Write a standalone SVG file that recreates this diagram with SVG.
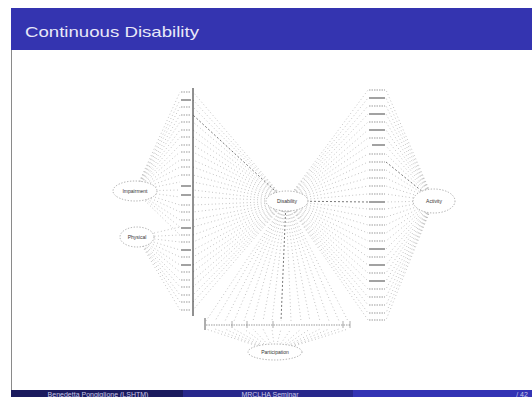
<svg xmlns="http://www.w3.org/2000/svg" width="532" height="397" viewBox="0 0 532 397">
<style>
.c{stroke:#9a9a9a;stroke-width:0.65;stroke-dasharray:0.9 2.6;fill:none}
.cd{stroke:#555;stroke-width:0.8;stroke-dasharray:2 2;fill:none}
.ind{stroke:#bdbdbd;stroke-width:1.3;stroke-dasharray:1.5 1}
.indd{stroke:#707070;stroke-width:1.3}
.ell{fill:#fff;stroke:#8a8a8a;stroke-width:0.7;stroke-dasharray:1.3 1.6}
.lab{font-family:"Liberation Sans",Arial,sans-serif;font-size:5px;fill:#333;text-anchor:middle}
.ft{font-family:"Liberation Sans",Arial,sans-serif;font-size:7px;fill:#c8c8e8;text-anchor:middle}
</style>
<rect x="0" y="0" width="532" height="397" fill="#fff"/>
<g id="slide-frame">
<rect x="11" y="8" width="521" height="42" fill="#3434b0"/>
<text x="25" y="37" font-family="'Liberation Sans',Arial,sans-serif" font-size="15" fill="#e8e8f8" textLength="174" lengthAdjust="spacingAndGlyphs">Continuous Disability</text>
<line x1="11.5" y1="50" x2="11.5" y2="390" stroke="#8a8a8a" stroke-width="1"/>
<rect x="11" y="390" width="172" height="7" fill="#1b1b5e"/>
<rect x="183" y="390" width="170" height="7" fill="#28288c"/>
<rect x="353" y="390" width="179" height="7" fill="#3434b4"/>
<text class="ft" x="98" y="396.5">Benedetta Pongiglione (LSHTM)</text>
<text class="ft" x="270" y="396.5">MRCLHA Seminar</text>
<text class="ft" x="522" y="396.5">/ 42</text>
</g>
<g id="connectors">
<line class="c" x1="135" y1="191" x2="180" y2="92"/>
<line class="c" x1="135" y1="191" x2="180" y2="100"/>
<line class="c" x1="135" y1="191" x2="180" y2="107"/>
<line class="c" x1="135" y1="191" x2="180" y2="115"/>
<line class="c" x1="135" y1="191" x2="180" y2="122"/>
<line class="c" x1="135" y1="191" x2="180" y2="130"/>
<line class="c" x1="135" y1="191" x2="180" y2="137"/>
<line class="c" x1="135" y1="191" x2="180" y2="145"/>
<line class="c" x1="135" y1="191" x2="180" y2="152"/>
<line class="c" x1="135" y1="191" x2="180" y2="160"/>
<line class="c" x1="135" y1="191" x2="180" y2="167"/>
<line class="c" x1="135" y1="191" x2="180" y2="175"/>
<line class="c" x1="135" y1="191" x2="180" y2="182"/>
<line class="c" x1="135" y1="191" x2="180" y2="190"/>
<line class="c" x1="135" y1="191" x2="180" y2="197"/>
<line class="c" x1="135" y1="191" x2="180" y2="205"/>
<line class="c" x1="135" y1="191" x2="180" y2="212"/>
<line class="c" x1="135" y1="191" x2="180" y2="220"/>
<line class="c" x1="135" y1="191" x2="180" y2="227"/>
<line class="c" x1="135" y1="191" x2="180" y2="235"/>
<line class="c" x1="137" y1="237" x2="180" y2="227"/>
<line class="c" x1="137" y1="237" x2="180" y2="235"/>
<line class="c" x1="137" y1="237" x2="180" y2="242"/>
<line class="c" x1="137" y1="237" x2="180" y2="250"/>
<line class="c" x1="137" y1="237" x2="180" y2="257"/>
<line class="c" x1="137" y1="237" x2="180" y2="265"/>
<line class="c" x1="137" y1="237" x2="180" y2="272"/>
<line class="c" x1="137" y1="237" x2="180" y2="280"/>
<line class="c" x1="137" y1="237" x2="180" y2="287"/>
<line class="c" x1="137" y1="237" x2="180" y2="295"/>
<line class="c" x1="137" y1="237" x2="180" y2="302"/>
<line class="c" x1="137" y1="237" x2="180" y2="310"/>
<line class="c" x1="286" y1="201" x2="193" y2="92"/>
<line class="c" x1="286" y1="201" x2="193" y2="100"/>
<line class="c" x1="286" y1="201" x2="193" y2="107"/>
<line class="cd" x1="286" y1="201" x2="193" y2="115"/>
<line class="c" x1="286" y1="201" x2="193" y2="122"/>
<line class="c" x1="286" y1="201" x2="193" y2="130"/>
<line class="c" x1="286" y1="201" x2="193" y2="137"/>
<line class="c" x1="286" y1="201" x2="193" y2="145"/>
<line class="c" x1="286" y1="201" x2="193" y2="152"/>
<line class="c" x1="286" y1="201" x2="193" y2="160"/>
<line class="c" x1="286" y1="201" x2="193" y2="167"/>
<line class="c" x1="286" y1="201" x2="193" y2="175"/>
<line class="c" x1="286" y1="201" x2="193" y2="182"/>
<line class="c" x1="286" y1="201" x2="193" y2="190"/>
<line class="c" x1="286" y1="201" x2="193" y2="197"/>
<line class="c" x1="286" y1="201" x2="193" y2="205"/>
<line class="c" x1="286" y1="201" x2="193" y2="212"/>
<line class="c" x1="286" y1="201" x2="193" y2="220"/>
<line class="c" x1="286" y1="201" x2="193" y2="227"/>
<line class="c" x1="286" y1="201" x2="193" y2="235"/>
<line class="c" x1="286" y1="201" x2="193" y2="242"/>
<line class="c" x1="286" y1="201" x2="193" y2="250"/>
<line class="c" x1="286" y1="201" x2="193" y2="257"/>
<line class="c" x1="286" y1="201" x2="193" y2="265"/>
<line class="c" x1="286" y1="201" x2="193" y2="272"/>
<line class="c" x1="286" y1="201" x2="193" y2="280"/>
<line class="c" x1="286" y1="201" x2="193" y2="287"/>
<line class="c" x1="286" y1="201" x2="193" y2="295"/>
<line class="c" x1="286" y1="201" x2="193" y2="302"/>
<line class="c" x1="286" y1="201" x2="193" y2="310"/>
<line class="c" x1="286" y1="201" x2="368" y2="90"/>
<line class="c" x1="286" y1="201" x2="368" y2="98"/>
<line class="c" x1="286" y1="201" x2="368" y2="106"/>
<line class="c" x1="286" y1="201" x2="368" y2="114"/>
<line class="c" x1="286" y1="201" x2="368" y2="122"/>
<line class="c" x1="286" y1="201" x2="368" y2="130"/>
<line class="c" x1="286" y1="201" x2="368" y2="138"/>
<line class="c" x1="286" y1="201" x2="368" y2="146"/>
<line class="c" x1="286" y1="201" x2="368" y2="154"/>
<line class="c" x1="286" y1="201" x2="368" y2="162"/>
<line class="c" x1="286" y1="201" x2="368" y2="170"/>
<line class="c" x1="286" y1="201" x2="368" y2="178"/>
<line class="c" x1="286" y1="201" x2="368" y2="186"/>
<line class="c" x1="286" y1="201" x2="368" y2="194"/>
<line class="cd" x1="286" y1="201" x2="368" y2="202"/>
<line class="c" x1="286" y1="201" x2="368" y2="209"/>
<line class="c" x1="286" y1="201" x2="368" y2="217"/>
<line class="c" x1="286" y1="201" x2="368" y2="225"/>
<line class="c" x1="286" y1="201" x2="368" y2="233"/>
<line class="c" x1="286" y1="201" x2="368" y2="241"/>
<line class="c" x1="286" y1="201" x2="368" y2="249"/>
<line class="c" x1="286" y1="201" x2="368" y2="257"/>
<line class="c" x1="286" y1="201" x2="368" y2="265"/>
<line class="c" x1="286" y1="201" x2="368" y2="273"/>
<line class="c" x1="286" y1="201" x2="368" y2="281"/>
<line class="c" x1="286" y1="201" x2="368" y2="289"/>
<line class="c" x1="286" y1="201" x2="368" y2="297"/>
<line class="c" x1="286" y1="201" x2="368" y2="305"/>
<line class="c" x1="286" y1="201" x2="368" y2="313"/>
<line class="c" x1="286" y1="201" x2="368" y2="320"/>
<line class="c" x1="434" y1="201" x2="386" y2="90"/>
<line class="c" x1="434" y1="201" x2="386" y2="98"/>
<line class="c" x1="434" y1="201" x2="386" y2="106"/>
<line class="c" x1="434" y1="201" x2="386" y2="114"/>
<line class="c" x1="434" y1="201" x2="386" y2="122"/>
<line class="c" x1="434" y1="201" x2="386" y2="130"/>
<line class="c" x1="434" y1="201" x2="386" y2="138"/>
<line class="c" x1="434" y1="201" x2="386" y2="146"/>
<line class="c" x1="434" y1="201" x2="386" y2="154"/>
<line class="cd" x1="434" y1="201" x2="386" y2="162"/>
<line class="c" x1="434" y1="201" x2="386" y2="170"/>
<line class="c" x1="434" y1="201" x2="386" y2="178"/>
<line class="c" x1="434" y1="201" x2="386" y2="186"/>
<line class="c" x1="434" y1="201" x2="386" y2="194"/>
<line class="c" x1="434" y1="201" x2="386" y2="202"/>
<line class="c" x1="434" y1="201" x2="386" y2="209"/>
<line class="c" x1="434" y1="201" x2="386" y2="217"/>
<line class="c" x1="434" y1="201" x2="386" y2="225"/>
<line class="c" x1="434" y1="201" x2="386" y2="233"/>
<line class="c" x1="434" y1="201" x2="386" y2="241"/>
<line class="c" x1="434" y1="201" x2="386" y2="249"/>
<line class="c" x1="434" y1="201" x2="386" y2="257"/>
<line class="c" x1="434" y1="201" x2="386" y2="265"/>
<line class="c" x1="434" y1="201" x2="386" y2="273"/>
<line class="c" x1="434" y1="201" x2="386" y2="281"/>
<line class="c" x1="434" y1="201" x2="386" y2="289"/>
<line class="c" x1="434" y1="201" x2="386" y2="297"/>
<line class="c" x1="434" y1="201" x2="386" y2="305"/>
<line class="c" x1="434" y1="201" x2="386" y2="313"/>
<line class="c" x1="434" y1="201" x2="386" y2="320"/>
<line class="c" x1="286" y1="201" x2="206" y2="321"/>
<line class="c" x1="286" y1="201" x2="215" y2="321"/>
<line class="c" x1="286" y1="201" x2="225" y2="321"/>
<line class="c" x1="286" y1="201" x2="234" y2="321"/>
<line class="c" x1="286" y1="201" x2="244" y2="321"/>
<line class="c" x1="286" y1="201" x2="253" y2="321"/>
<line class="c" x1="286" y1="201" x2="263" y2="321"/>
<line class="c" x1="286" y1="201" x2="272" y2="321"/>
<line class="cd" x1="286" y1="201" x2="281" y2="321"/>
<line class="c" x1="286" y1="201" x2="291" y2="321"/>
<line class="c" x1="286" y1="201" x2="301" y2="321"/>
<line class="c" x1="286" y1="201" x2="310" y2="321"/>
<line class="c" x1="286" y1="201" x2="320" y2="321"/>
<line class="c" x1="286" y1="201" x2="329" y2="321"/>
<line class="c" x1="286" y1="201" x2="339" y2="321"/>
<line class="c" x1="286" y1="201" x2="348" y2="321"/>
<line class="c" x1="275" y1="352" x2="206" y2="329"/>
<line class="c" x1="275" y1="352" x2="215" y2="329"/>
<line class="c" x1="275" y1="352" x2="225" y2="329"/>
<line class="c" x1="275" y1="352" x2="234" y2="329"/>
<line class="c" x1="275" y1="352" x2="244" y2="329"/>
<line class="c" x1="275" y1="352" x2="253" y2="329"/>
<line class="c" x1="275" y1="352" x2="263" y2="329"/>
<line class="c" x1="275" y1="352" x2="272" y2="329"/>
<line class="c" x1="275" y1="352" x2="281" y2="329"/>
<line class="c" x1="275" y1="352" x2="291" y2="329"/>
<line class="c" x1="275" y1="352" x2="301" y2="329"/>
<line class="c" x1="275" y1="352" x2="310" y2="329"/>
<line class="c" x1="275" y1="352" x2="320" y2="329"/>
<line class="c" x1="275" y1="352" x2="329" y2="329"/>
<line class="c" x1="275" y1="352" x2="339" y2="329"/>
<line class="c" x1="275" y1="352" x2="348" y2="329"/>
</g>
<g id="left-indicators">
<line x1="193" y1="88" x2="193" y2="316" stroke="#222" stroke-width="1"/>
<line class="ind" x1="181" y1="92" x2="191" y2="92"/>
<line class="indd" x1="181" y1="100" x2="191" y2="100"/>
<line class="ind" x1="181" y1="107" x2="191" y2="107"/>
<line class="ind" x1="181" y1="115" x2="191" y2="115"/>
<line class="ind" x1="181" y1="122" x2="191" y2="122"/>
<line class="ind" x1="181" y1="130" x2="191" y2="130"/>
<line class="ind" x1="181" y1="137" x2="191" y2="137"/>
<line class="ind" x1="181" y1="145" x2="191" y2="145"/>
<line class="ind" x1="181" y1="152" x2="191" y2="152"/>
<line class="ind" x1="181" y1="160" x2="191" y2="160"/>
<line class="ind" x1="181" y1="167" x2="191" y2="167"/>
<line class="ind" x1="181" y1="175" x2="191" y2="175"/>
<line class="indd" x1="181" y1="186" x2="191" y2="186"/>
<line class="indd" x1="181" y1="195" x2="191" y2="195"/>
<line class="ind" x1="181" y1="205" x2="191" y2="205"/>
<line class="ind" x1="181" y1="212" x2="191" y2="212"/>
<line class="ind" x1="181" y1="220" x2="191" y2="220"/>
<line class="indd" x1="181" y1="228" x2="191" y2="228"/>
<line class="ind" x1="181" y1="235" x2="191" y2="235"/>
<line class="ind" x1="181" y1="242" x2="191" y2="242"/>
<line class="indd" x1="181" y1="250" x2="191" y2="250"/>
<line class="ind" x1="181" y1="257" x2="191" y2="257"/>
<line class="indd" x1="181" y1="265" x2="191" y2="265"/>
<line class="ind" x1="181" y1="272" x2="191" y2="272"/>
<line class="ind" x1="181" y1="280" x2="191" y2="280"/>
<line class="ind" x1="181" y1="287" x2="191" y2="287"/>
<line class="ind" x1="181" y1="295" x2="191" y2="295"/>
<line class="ind" x1="181" y1="302" x2="191" y2="302"/>
<line class="ind" x1="181" y1="310" x2="191" y2="310"/>
</g>
<g id="right-indicators">
<line class="ind" x1="369" y1="90" x2="385" y2="90"/>
<line class="indd" x1="369" y1="98" x2="385" y2="98"/>
<line class="ind" x1="369" y1="106" x2="385" y2="106"/>
<line class="indd" x1="369" y1="114" x2="385" y2="114"/>
<line class="ind" x1="369" y1="122" x2="385" y2="122"/>
<line class="indd" x1="369" y1="130" x2="385" y2="130"/>
<line class="ind" x1="369" y1="138" x2="385" y2="138"/>
<line class="indd" x1="372" y1="145" x2="385" y2="145" stroke-width="2.5"/>
<line class="ind" x1="369" y1="154" x2="385" y2="154"/>
<line class="ind" x1="369" y1="162" x2="385" y2="162"/>
<line class="ind" x1="369" y1="170" x2="385" y2="170"/>
<line class="ind" x1="369" y1="178" x2="385" y2="178"/>
<line class="ind" x1="369" y1="186" x2="385" y2="186"/>
<line class="ind" x1="369" y1="194" x2="385" y2="194"/>
<line class="indd" x1="369" y1="202" x2="385" y2="202"/>
<line class="ind" x1="369" y1="209" x2="385" y2="209"/>
<line class="ind" x1="369" y1="217" x2="385" y2="217"/>
<line class="ind" x1="369" y1="225" x2="385" y2="225"/>
<line class="ind" x1="369" y1="233" x2="385" y2="233"/>
<line class="ind" x1="369" y1="241" x2="385" y2="241"/>
<line class="indd" x1="369" y1="249" x2="385" y2="249"/>
<line class="ind" x1="369" y1="257" x2="385" y2="257"/>
<line class="indd" x1="369" y1="265" x2="385" y2="265"/>
<line class="ind" x1="369" y1="273" x2="385" y2="273"/>
<line class="indd" x1="369" y1="281" x2="385" y2="281"/>
<line class="ind" x1="369" y1="289" x2="385" y2="289"/>
<line class="ind" x1="369" y1="297" x2="385" y2="297"/>
<line class="ind" x1="369" y1="305" x2="385" y2="305"/>
<line class="ind" x1="369" y1="313" x2="385" y2="313"/>
<line class="ind" x1="369" y1="320" x2="385" y2="320"/>
</g>
<g id="bottom-indicators">
<line x1="205" y1="318" x2="205" y2="330" stroke="#333" stroke-width="0.8"/>
<line class="ind" x1="206" y1="325" x2="350" y2="325"/>
<line x1="232" y1="321" x2="232" y2="328" stroke="#777" stroke-width="0.6"/>
<line x1="247" y1="321" x2="247" y2="328" stroke="#777" stroke-width="0.6"/>
<line x1="273" y1="321" x2="273" y2="328" stroke="#777" stroke-width="0.6"/>
<line x1="343" y1="321" x2="343" y2="328" stroke="#777" stroke-width="0.6"/>
<line x1="350" y1="321" x2="350" y2="328" stroke="#777" stroke-width="0.6"/>
</g>
<g id="impairment">
<ellipse class="ell" cx="135" cy="191" rx="22" ry="10"/>
<text class="lab" x="135" y="193">Impairment</text>
</g>
<g id="physical">
<ellipse class="ell" cx="137" cy="237" rx="17" ry="10"/>
<text class="lab" x="137" y="239">Physical</text>
</g>
<g id="disability">
<ellipse class="ell" cx="287" cy="201" rx="21" ry="10"/>
<text class="lab" x="287" y="203">Disability</text>
</g>
<g id="activity">
<ellipse class="ell" cx="434" cy="201" rx="21" ry="12"/>
<text class="lab" x="434" y="203">Activity</text>
</g>
<g id="participation">
<ellipse class="ell" cx="275" cy="352" rx="27" ry="8"/>
<text class="lab" x="275" y="354">Participation</text>
</g>
</svg>
